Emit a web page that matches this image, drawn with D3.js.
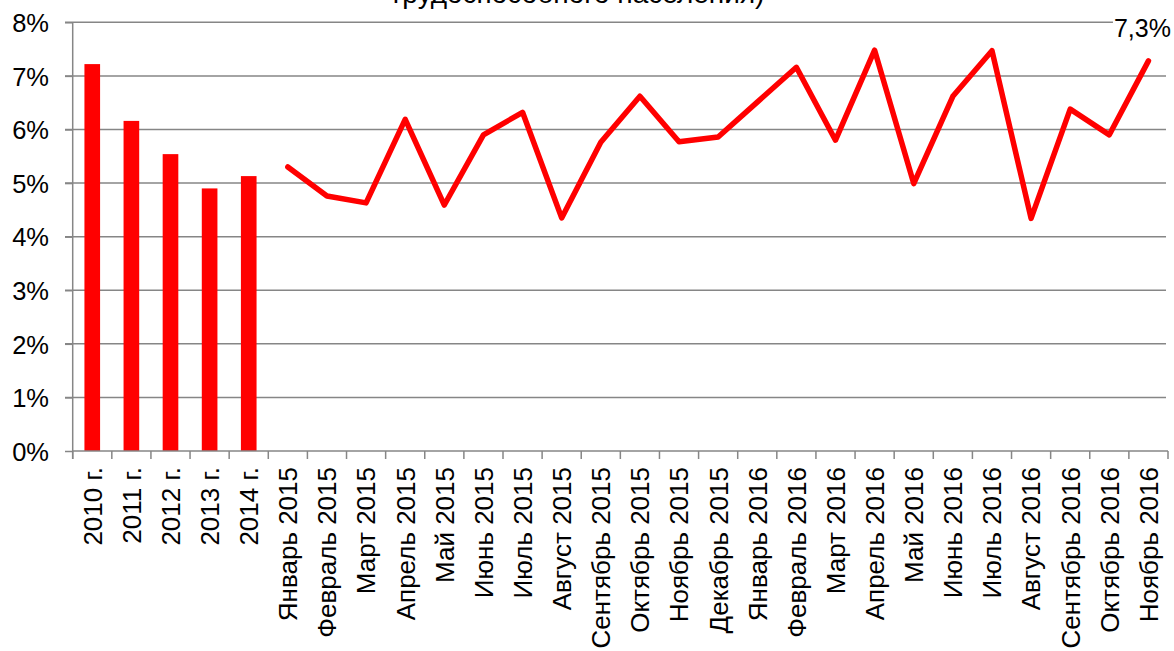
<!DOCTYPE html>
<html><head><meta charset="utf-8">
<script src="https://cdn.jsdelivr.net/npm/d3@7"></script>
<style>body{margin:0;background:#fff}svg{display:block}text{font-family:"Liberation Sans",Arial,sans-serif;fill:#000}</style>
</head><body>
<svg id="c" width="1174" height="651"></svg>
<script>
const categories = ["2010 г.","2011 г.","2012 г.","2013 г.","2014 г.",
 "Январь 2015","Февраль 2015","Март 2015","Апрель 2015","Май 2015","Июнь 2015","Июль 2015","Август 2015","Сентябрь 2015","Октябрь 2015","Ноябрь 2015","Декабрь 2015",
 "Январь 2016","Февраль 2016","Март 2016","Апрель 2016","Май 2016","Июнь 2016","Июль 2016","Август 2016","Сентябрь 2016","Октябрь 2016","Ноябрь 2016"];
const barCategories = ["2010 г.","2011 г.","2012 г.","2013 г.","2014 г."];
const barValues = [7.22, 6.16, 5.54, 4.90, 5.13];
const lineCategories = categories.slice(5);
const lineValues = [5.30, 4.76, 4.63, 6.19, 4.59, 5.90, 6.32, 4.35, 5.76, 6.62, 5.77, 5.86,
  6.51, 7.16, 5.80, 7.48, 4.99, 6.62, 7.47, 4.34, 6.38, 5.90, 7.28];
const yTicks = [0,1,2,3,4,5,6,7,8];
const tickLabels = yTicks.map(d => d + "%");
const titleText = "трудоспособного населения)";
const endLabel = "7,3%";

const svg = d3.select("#c");
const x = d3.scaleBand().domain(categories).range([72.7, 1168]).padding(0);
const y = d3.scaleLinear().domain([0, 8]).range([451, 22.3]);
const grid = "#868686";

// title (cut off at top in the reference)
svg.append("text").attr("x", 577).attr("y", 3).attr("text-anchor","middle")
  .style("font-size","28px").text(titleText);

// gridlines
svg.append("g").selectAll("line").data(yTicks.filter(d=>d>0)).join("line")
  .attr("x1", 65).attr("x2", 1166).attr("y1", d=>y(d)).attr("y2", d=>y(d))
  .attr("stroke", grid).attr("stroke-width", 1.5);

// y axis
const yAxis = d3.axisLeft(y).tickValues(yTicks).tickFormat((d,i)=>tickLabels[i]).tickSize(7.7).tickPadding(16);
const gy = svg.append("g").attr("transform","translate(72.7,0)").call(yAxis);
gy.select(".domain").remove();
gy.selectAll(".tick line").attr("stroke", grid).attr("stroke-width",1.5);
gy.selectAll(".tick text").style("font-size","25.5px").attr("dy","0.36em");
svg.append("line").attr("x1",72.7).attr("x2",72.7).attr("y1",22.3).attr("y2",459)
  .attr("stroke",grid).attr("stroke-width",1.5);

// bars
svg.append("g").selectAll("rect").data(barCategories).join("rect")
  .attr("x", d => x(d) + x.bandwidth()*0.3)
  .attr("width", x.bandwidth()*0.4)
  .attr("y", (d,i) => y(barValues[i]))
  .attr("height", (d,i) => y(0) - y(barValues[i]))
  .attr("fill", "#ff0000");

// x axis
svg.append("line").attr("x1",72.7).attr("x2",1168).attr("y1",y(0)).attr("y2",y(0))
  .attr("stroke",grid).attr("stroke-width",1.5);
const bounds = categories.map(c => x(c)).concat([x.range()[1]]);
svg.append("g").selectAll("line").data(bounds).join("line")
  .attr("x1", d=>d).attr("x2", d=>d).attr("y1", y(0)).attr("y2", y(0)+8)
  .attr("stroke",grid).attr("stroke-width",1.5);
svg.append("g").selectAll("text").data(categories).join("text")
  .attr("transform", d => `translate(${x(d)+x.bandwidth()/2},467) rotate(-90)`)
  .attr("text-anchor","end").attr("dy","0.36em")
  .style("font-size","26px").text(d=>d);

// line
const line = d3.line().x((d,i)=>x(lineCategories[i])+x.bandwidth()/2).y(d=>y(d));
svg.append("path").datum(lineValues).attr("d", line)
  .attr("fill","none").attr("stroke","#ff0000").attr("stroke-width",5.5)
  .attr("stroke-linejoin","round").attr("stroke-linecap","round");

// end label
const last = lineCategories[lineCategories.length-1];
const lx = x(last)+x.bandwidth()/2 - 6, ly = 37;
const lg = svg.append("g");
const lt = lg.append("text").attr("x", lx).attr("y", ly).attr("text-anchor","middle")
  .style("font-size","25px").text(endLabel);
const bb = lt.node().getBBox();
lg.insert("rect", () => lt.node()).attr("x", bb.x-1).attr("y", bb.y).attr("width", bb.width+2).attr("height", bb.height).attr("fill","#fff");
</script>
</body></html>
